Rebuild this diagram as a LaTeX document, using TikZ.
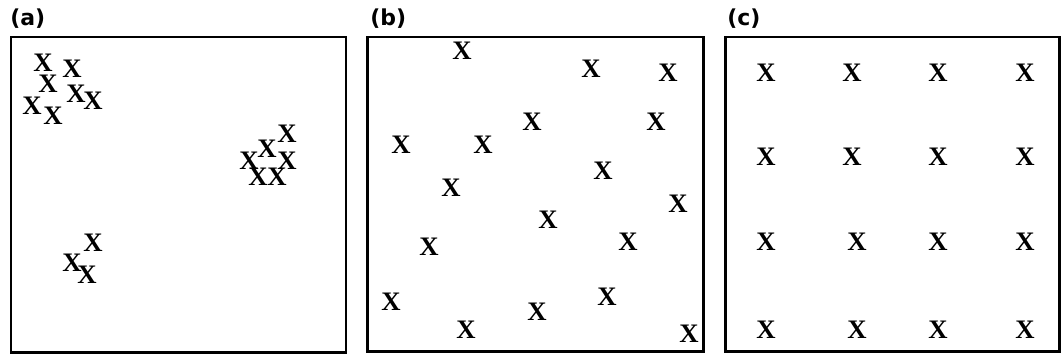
\documentclass[tikz,border=0pt]{standalone}
\usepackage{fontspec}
\setmainfont{Liberation Serif}
\newfontfamily\panelfont{DejaVu Sans}
\usetikzlibrary{positioning}
\tikzset{
  panel/.style={draw=black,line width=1.7pt},
  tag/.style={anchor=base west,inner sep=0pt,font=\panelfont\bfseries\fontsize{12.5pt}{14pt}\selectfont},
  xpt/.style={inner sep=0pt,font=\bfseries\fontsize{15.2pt}{18pt}\selectfont}
}

\begin{document}
\begin{tikzpicture}[x=0.02cm,y=-0.02cm]
    \useasboundingbox (0,0) rectangle (1061,356);
    % recuadros
    \draw[panel] (11,37) rectangle (346,352);
    \draw[panel] (367.5,37) rectangle (703.5,351.5);
    \draw[panel] (725,37) rectangle (1059,351.5);
    \node[tag] (la) at (10,25) {(a)};
    \node[tag] (lb) at (370,25) {(b)};
    \node[tag] (lc) at (727,25) {(c)};
    % (a) agrupados
    \foreach \px/\py [count=\i] in {43/63,72/69,48/84,76/94,32/106,93/101,53/116,
        287/134,267/149,249/161,287/161,258/177,277/177,93/243,72/263,87/275}
      \node[xpt] (a\i) at (\px,\py) {X};
    % (b) aleatorios
    \foreach \px/\py [count=\i] in {462/51,591/69,668/73,532/122,656/122,401/145,483/145,
        603/171,451/188,678/204,548/220,628/242,429/247,391/302,607/297,537/312,466/330,689/334}
      \node[xpt] (b\i) at (\px,\py) {X};
    % (c) regulares
    \foreach \px/\py [count=\i] in {766/73,852/73,938/73,1025/73,766/157,852/157,938/157,1025/157,
        766/242,857/242,938/242,1025/242,766/330,857/330,938/330,1025/330}
      \node[xpt] (c\i) at (\px,\py) {X};
\end{tikzpicture}
\end{document}
